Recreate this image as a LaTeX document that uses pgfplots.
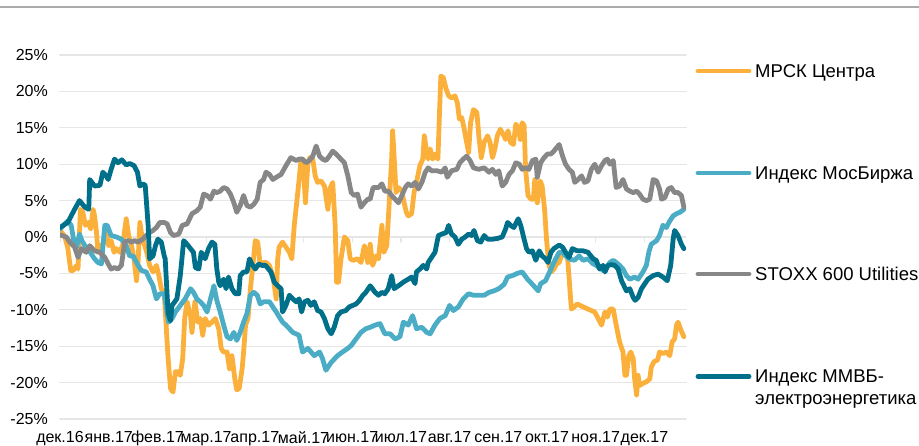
\documentclass[border=0pt]{standalone}
\usepackage{fontspec}
\setmainfont{Liberation Sans}
\usepackage{pgfplots}
\usepackage{pgfplotstable}
\pgfplotsset{compat=1.18}

\definecolor{mrsk}{HTML}{FBB03B}
\definecolor{moex}{HTML}{4BACC6}
\definecolor{stoxx}{HTML}{878787}
\definecolor{mmvb}{HTML}{006F8A}
\definecolor{gridc}{HTML}{E6E6E6}

% x: months since 1 Dec 2016, y: change, %
\pgfplotstableread{
x y
0.00 1.0
0.10 0.0
0.16 -1.5
0.22 -4.6
0.27 -4.6
0.34 -3.9
0.37 -4.4
0.42 3.8
0.47 3.4
0.52 1.6
0.58 2.0
0.63 1.1
0.68 3.8
0.71 2.9
0.75 0.6
0.78 -2.1
0.82 -1.2
0.88 -1.0
0.95 0.6
1.00 -1.2
1.05 -0.5
1.11 -2.1
1.16 -1.6
1.23 -2.1
1.29 -1.0
1.36 2.5
1.41 0.2
1.47 -1.2
1.52 -3.0
1.57 -6.0
1.60 -3.9
1.64 2.0
1.68 0.2
1.74 -1.2
1.79 -2.3
1.84 -3.9
1.91 -4.8
1.98 -3.9
2.03 -5.3
2.08 -7.1
2.14 -7.6
2.16 -9.9
2.22 -16.7
2.27 -20.8
2.32 -21.3
2.37 -18.5
2.42 -18.5
2.47 -19.0
2.52 -16.7
2.56 -11.2
2.61 -8.9
2.68 -10.8
2.71 -13.1
2.77 -8.9
2.83 -11.7
2.88 -11.2
2.93 -13.5
2.98 -11.2
3.05 -12.1
3.12 -11.7
3.19 -11.2
3.26 -12.6
3.31 -15.3
3.36 -15.8
3.43 -15.8
3.48 -18.1
3.53 -16.3
3.59 -19.5
3.63 -21.0
3.68 -20.8
3.74 -18.1
3.77 -15.8
3.81 -12.1
3.86 -11.2
3.91 -7.1
3.96 -3.9
4.01 -0.5
4.06 -0.7
4.11 -3.9
4.18 -3.5
4.23 -3.5
4.30 -3.9
4.37 -5.3
4.44 -8.5
4.47 -3.0
4.50 -1.4
4.57 -0.7
4.64 -1.4
4.71 -2.1
4.76 -3.0
4.81 1.6
4.86 4.7
4.91 7.9
4.95 10.7
5.00 9.3
5.04 4.7
5.09 10.2
5.13 10.9
5.19 10.7
5.24 8.4
5.29 7.5
5.36 7.7
5.43 7.0
5.50 3.8
5.54 6.6
5.60 7.5
5.65 1.6
5.68 -6.2
5.72 -6.2
5.77 -3.0
5.84 0.0
5.91 -0.5
5.96 -3.0
6.02 -3.2
6.11 -3.0
6.18 -3.5
6.25 -1.2
6.32 -3.5
6.37 -1.0
6.42 -3.9
6.49 -2.6
6.54 -3.0
6.61 1.6
6.65 -2.1
6.71 -1.2
6.76 4.7
6.81 10.7
6.83 14.6
6.86 11.1
6.90 6.1
6.95 6.8
7.02 6.3
7.05 5.2
7.11 3.4
7.15 2.9
7.22 3.2
7.27 6.1
7.32 7.5
7.39 9.8
7.45 10.7
7.48 13.9
7.52 12.1
7.56 10.7
7.60 12.1
7.65 10.7
7.70 11.4
7.76 10.7
7.79 16.6
7.82 22.1
7.87 21.9
7.93 20.3
7.98 19.4
8.04 19.1
8.11 19.4
8.16 18.4
8.20 16.2
8.25 16.4
8.30 14.8
8.35 13.0
8.39 11.6
8.43 15.7
8.49 17.5
8.56 17.1
8.60 13.9
8.65 10.9
8.71 13.0
8.78 13.9
8.83 13.0
8.88 10.9
8.93 12.1
8.98 13.9
9.04 14.8
9.10 14.1
9.15 13.4
9.20 14.6
9.25 13.0
9.31 12.7
9.36 15.5
9.41 15.0
9.45 13.4
9.49 15.7
9.53 15.3
9.56 9.3
9.61 5.7
9.67 5.2
9.72 5.2
9.75 7.9
9.80 4.7
9.86 7.7
9.90 7.0
9.95 3.8
9.99 -0.3
10.04 -3.9
10.09 -4.8
10.14 -4.4
10.20 -3.7
10.25 -3.5
10.32 -2.1
10.36 -2.1
10.42 -2.6
10.45 -5.3
10.50 -9.9
10.56 -9.6
10.62 -9.2
10.74 -9.6
10.84 -9.9
10.91 -10.1
10.98 -10.3
11.05 -11.2
11.12 -12.1
11.19 -10.3
11.24 -11.0
11.29 -9.9
11.36 -9.9
11.42 -12.1
11.49 -14.4
11.56 -15.8
11.60 -19.0
11.63 -19.0
11.68 -16.3
11.72 -15.8
11.77 -16.7
11.80 -19.5
11.84 -21.7
11.87 -19.0
11.90 -20.4
11.97 -20.1
12.04 -19.9
12.11 -19.5
12.14 -17.9
12.20 -17.1
12.27 -16.9
12.31 -15.8
12.38 -16.0
12.45 -15.8
12.52 -16.3
12.57 -14.4
12.62 -14.0
12.66 -12.1
12.69 -11.7
12.75 -12.8
12.81 -13.7
}\mrsk

\pgfplotstableread{
x y
0.00 1.1
0.10 1.8
0.16 2.2
0.23 1.6
0.30 -1.2
0.34 -1.4
0.40 0.4
0.45 -0.5
0.51 -1.2
0.58 -1.6
0.64 -2.3
0.71 -3.0
0.78 -3.5
0.85 -3.7
0.92 1.6
0.97 1.6
1.05 0.2
1.16 0.0
1.26 -0.3
1.36 -1.2
1.43 -2.6
1.50 -2.6
1.57 -3.5
1.67 -4.6
1.77 -4.8
1.84 -5.8
1.91 -6.7
1.98 -8.5
2.05 -7.8
2.14 -7.8
2.23 -11.7
2.30 -11.2
2.37 -10.3
2.47 -9.4
2.57 -8.5
2.68 -7.1
2.74 -7.6
2.81 -8.5
2.88 -8.9
2.95 -9.4
3.02 -10.3
3.09 -8.5
3.16 -6.7
3.22 -8.7
3.29 -10.3
3.36 -12.1
3.43 -13.7
3.50 -14.0
3.57 -13.1
3.63 -14.2
3.70 -13.1
3.77 -11.7
3.84 -10.5
3.91 -8.0
3.98 -7.6
4.05 -8.0
4.11 -9.2
4.18 -8.9
4.30 -8.9
4.44 -10.3
4.57 -11.7
4.64 -12.1
4.78 -13.1
4.91 -13.5
4.98 -15.8
5.09 -15.3
5.22 -16.3
5.33 -15.8
5.39 -16.7
5.46 -18.3
5.57 -17.2
5.70 -16.3
5.80 -15.8
5.91 -15.3
5.98 -14.9
6.08 -14.0
6.18 -13.1
6.28 -12.6
6.37 -12.4
6.47 -12.1
6.57 -11.9
6.67 -13.3
6.78 -13.3
6.88 -14.0
6.98 -13.7
7.05 -11.7
7.15 -12.1
7.24 -10.8
7.32 -12.6
7.43 -12.4
7.53 -13.1
7.60 -13.3
7.70 -12.1
7.80 -11.2
7.91 -10.8
8.00 -9.4
8.08 -10.1
8.18 -9.6
8.28 -8.5
8.39 -7.8
8.49 -8.0
8.60 -8.0
8.71 -8.0
8.81 -7.6
8.91 -7.4
9.01 -7.1
9.12 -6.5
9.19 -5.5
9.29 -5.3
9.39 -5.0
9.49 -4.8
9.60 -5.8
9.70 -6.5
9.82 -7.4
9.87 -6.4
9.97 -6.0
10.04 -5.0
10.14 -3.5
10.25 -2.1
10.32 -2.1
10.38 -2.6
10.45 -3.0
10.56 -3.2
10.66 -2.6
10.74 -3.2
10.84 -3.0
10.95 -3.7
11.01 -3.9
11.08 -4.2
11.15 -4.6
11.22 -4.2
11.29 -3.5
11.36 -3.2
11.42 -3.5
11.49 -3.9
11.56 -4.4
11.63 -5.3
11.70 -5.8
11.80 -5.5
11.87 -5.8
11.97 -4.8
12.04 -3.9
12.09 -2.1
12.14 -1.0
12.25 -0.5
12.31 0.2
12.38 1.6
12.45 1.3
12.52 2.2
12.59 2.9
12.66 3.2
12.73 3.4
12.81 3.8
}\moex

\pgfplotstableread{
x y
0.00 0.3
0.13 0.0
0.20 -0.7
0.30 -1.4
0.37 -2.8
0.44 -1.6
0.54 -2.1
0.61 -1.2
0.71 -1.9
0.82 -2.1
0.92 -2.8
0.99 -3.7
1.05 -4.4
1.12 -4.2
1.19 -4.4
1.26 -3.9
1.33 -0.7
1.40 -0.5
1.47 -0.7
1.53 -0.5
1.60 -0.7
1.70 -0.3
1.77 0.2
1.84 0.6
1.91 0.9
1.98 1.3
2.05 2.0
2.14 2.0
2.20 1.8
2.27 0.6
2.33 0.2
2.44 0.4
2.51 1.6
2.61 1.8
2.71 3.2
2.81 3.6
2.88 4.1
2.95 5.9
3.02 5.7
3.09 5.2
3.16 6.3
3.22 6.1
3.29 6.3
3.36 6.8
3.43 6.6
3.50 5.9
3.57 4.7
3.63 3.4
3.70 4.3
3.77 5.7
3.84 4.3
3.91 4.1
3.98 4.5
4.05 5.2
4.11 7.5
4.18 7.9
4.23 8.9
4.30 8.6
4.37 7.9
4.44 8.2
4.54 8.6
4.64 9.8
4.74 10.9
4.85 10.5
4.91 10.7
4.98 10.7
5.05 10.2
5.12 10.5
5.19 11.1
5.26 12.5
5.33 11.1
5.39 10.7
5.46 10.5
5.53 11.1
5.60 11.8
5.67 11.4
5.74 10.9
5.84 10.2
5.91 8.4
5.98 6.1
6.04 5.7
6.11 5.9
6.18 4.1
6.25 4.7
6.32 5.2
6.37 5.2
6.43 6.8
6.54 6.8
6.61 7.3
6.67 6.3
6.74 6.3
6.81 5.7
6.88 5.2
6.95 4.7
7.02 5.7
7.09 6.8
7.15 7.3
7.22 7.0
7.29 7.5
7.36 6.6
7.43 7.5
7.50 8.9
7.56 9.5
7.63 9.1
7.74 9.1
7.84 8.9
7.91 9.5
7.95 8.2
8.04 9.1
8.15 9.3
8.21 10.2
8.28 10.7
8.35 11.1
8.42 10.5
8.49 9.5
8.60 9.3
8.71 9.5
8.81 8.9
8.88 9.3
8.95 8.6
9.01 9.1
9.08 7.0
9.15 7.5
9.22 8.6
9.29 9.1
9.36 10.2
9.43 10.0
9.49 9.3
9.56 9.5
9.63 9.3
9.70 10.5
9.77 10.7
9.80 8.2
9.87 10.2
9.94 10.9
10.01 11.4
10.08 11.4
10.14 11.8
10.25 12.7
10.32 11.1
10.38 10.0
10.45 9.3
10.52 8.9
10.57 7.5
10.64 7.9
10.71 8.4
10.77 7.5
10.84 7.7
10.91 9.3
10.98 10.0
11.05 8.9
11.12 9.8
11.19 10.5
11.24 10.7
11.29 10.0
11.36 10.5
11.42 6.8
11.49 7.0
11.56 7.9
11.63 6.6
11.70 6.3
11.77 6.1
11.84 6.3
11.90 5.9
11.97 5.2
12.04 5.0
12.11 5.2
12.18 7.9
12.25 7.7
12.31 6.6
12.35 5.2
12.42 5.4
12.49 6.6
12.55 6.8
12.62 6.1
12.69 6.1
12.76 5.7
12.81 4.1
}\stoxx

\pgfplotstableread{
x y
0.00 1.3
0.16 2.0
0.30 3.8
0.40 5.0
0.51 4.1
0.59 3.8
0.61 7.9
0.71 7.0
0.82 7.1
0.88 8.9
0.95 8.4
0.99 7.9
1.05 9.3
1.12 10.7
1.19 10.2
1.27 10.6
1.36 9.9
1.43 10.1
1.52 9.8
1.59 8.9
1.64 7.0
1.70 7.3
1.75 7.1
1.81 1.6
1.84 -3.0
1.91 -2.6
1.96 -1.2
2.01 -0.3
2.08 -0.7
2.14 -2.6
2.16 -3.0
2.22 -10.5
2.27 -11.5
2.30 -9.4
2.40 -8.5
2.47 -5.3
2.54 -0.5
2.61 -1.0
2.68 -1.6
2.74 -2.1
2.78 -4.2
2.85 -4.4
2.90 -2.1
2.95 -2.6
2.98 -3.0
3.05 -1.6
3.12 -0.7
3.18 -1.0
3.22 -4.4
3.26 -6.2
3.29 -6.7
3.36 -5.8
3.41 -7.1
3.46 -5.5
3.53 -7.1
3.60 -7.8
3.67 -7.8
3.70 -5.3
3.77 -4.8
3.84 -4.8
3.89 -3.0
3.94 -3.7
4.01 -4.4
4.08 -3.7
4.15 -3.9
4.22 -3.9
4.33 -4.8
4.40 -6.2
4.47 -6.7
4.54 -7.1
4.57 -10.3
4.64 -9.4
4.71 -8.0
4.78 -8.5
4.85 -8.9
4.91 -8.5
4.96 -10.3
5.02 -8.9
5.09 -8.7
5.15 -9.4
5.22 -8.9
5.29 -10.1
5.36 -10.3
5.43 -11.2
5.50 -12.6
5.57 -13.3
5.63 -12.4
5.70 -10.8
5.77 -10.3
5.87 -10.1
5.94 -9.6
6.01 -9.4
6.08 -9.2
6.15 -8.7
6.22 -8.0
6.28 -7.6
6.37 -6.7
6.47 -7.6
6.54 -8.0
6.61 -7.6
6.67 -7.8
6.74 -7.1
6.81 -5.3
6.86 -7.1
6.95 -6.7
7.05 -6.2
7.15 -5.8
7.22 -5.5
7.29 -6.4
7.32 -4.8
7.39 -4.4
7.46 -3.9
7.53 -4.4
7.56 -3.5
7.63 -2.8
7.70 -2.1
7.77 0.2
7.84 0.4
7.93 0.6
7.98 1.6
8.04 0.4
8.11 0.0
8.18 -1.0
8.25 -0.3
8.32 0.0
8.39 0.4
8.45 0.2
8.50 0.9
8.57 -0.5
8.64 -0.7
8.71 0.2
8.78 -0.3
8.88 -0.3
8.98 -0.2
9.08 0.0
9.15 1.1
9.19 2.0
9.25 1.6
9.32 1.3
9.41 2.5
9.46 1.6
9.53 -0.3
9.58 -1.6
9.63 -2.1
9.70 -1.9
9.77 -3.2
9.84 -1.9
9.90 -2.6
9.97 -3.0
10.02 -3.5
10.08 -2.1
10.14 -1.6
10.25 -1.1
10.32 -1.4
10.38 -2.1
10.45 -2.8
10.52 -1.6
10.62 -1.9
10.74 -1.9
10.84 -2.1
10.95 -3.0
11.01 -3.2
11.08 -4.4
11.15 -3.9
11.19 -4.8
11.25 -3.9
11.32 -3.8
11.39 -3.9
11.46 -4.4
11.53 -6.0
11.58 -6.7
11.63 -7.4
11.70 -7.1
11.77 -8.3
11.81 -8.7
11.87 -8.3
11.94 -7.1
12.01 -6.4
12.07 -5.8
12.18 -5.3
12.28 -5.1
12.38 -5.5
12.47 -6.0
12.54 -3.9
12.59 -0.3
12.62 0.9
12.69 0.2
12.76 -1.0
12.81 -1.6
}\mmvb

\begin{document}
\begin{tikzpicture}
\path[use as bounding box] (0,0) rectangle (919bp,446bp);
\draw[line width=2.5bp, color=black!33] (0,439bp) -- (919bp,439bp);

\begin{axis}[
    at={(60bp,27bp)}, anchor=south west,
    scale only axis,
    width=626bp, height=364bp,
    xmin=0, xmax=12.854,
    ymin=-25, ymax=25,
    xtick={0,1,2,3,4,5,6,7,8,9,10,11,12},
    xticklabels={дек.16,янв.17,фев.17,мар.17,апр.17,май.17,июн.17,июл.17,авг.17,сен.17,окт.17,ноя.17,дек.17},
    ytick={-25,-20,-15,-10,-5,0,5,10,15,20,25},
    yticklabels={-25\%,-20\%,-15\%,-10\%,-5\%,0\%,5\%,10\%,15\%,20\%,25\%},
    axis line style={draw=none},
    major tick length=0pt,
    ymajorgrids=true,
    grid style={draw=gridc, line width=1.2bp},
    tick label style={font=\fontsize{16bp}{19bp}\selectfont, inner sep=0pt},
    yticklabel style={xshift=-12bp},
    xticklabel style={yshift=-12bp},
    line join=round, line cap=round,
]
\pgfplotsinvokeforeach{0,...,12}{
  \draw[gridc, line width=1.2bp] (axis cs:#1,0) -- ([yshift=-5bp]axis cs:#1,0);
}
\addplot[mrsk, line width=4.8bp] table {\mrsk};
\addplot[moex, line width=4.8bp] table {\moex};
\addplot[stoxx, line width=4.8bp] table {\stoxx};
\addplot[mmvb, line width=4.8bp] table {\mmvb};
\end{axis}

\begin{scope}[every node/.style={anchor=base west, inner sep=0pt, font=\fontsize{18.5bp}{22bp}\selectfont}]
\draw[mrsk, line width=4.8bp, line cap=round] (698bp,375bp) -- (749bp,375bp);
\node at (755bp,368.5bp) {МРСК Центра};
\draw[moex, line width=4.8bp, line cap=round] (698bp,273bp) -- (749bp,273bp);
\node at (755bp,266.5bp) {Индекс МосБиржа};
\draw[stoxx, line width=4.8bp, line cap=round] (698bp,172bp) -- (749bp,172bp);
\node at (755bp,165.5bp) {STOXX 600 Utilities};
\draw[mmvb, line width=4.8bp, line cap=round] (698bp,69.5bp) -- (749bp,69.5bp);
\node at (755bp,63bp) {Индекс ММВБ-};
\node at (755bp,41bp) {электроэнергетика};
\end{scope}
\end{tikzpicture}
\end{document}
